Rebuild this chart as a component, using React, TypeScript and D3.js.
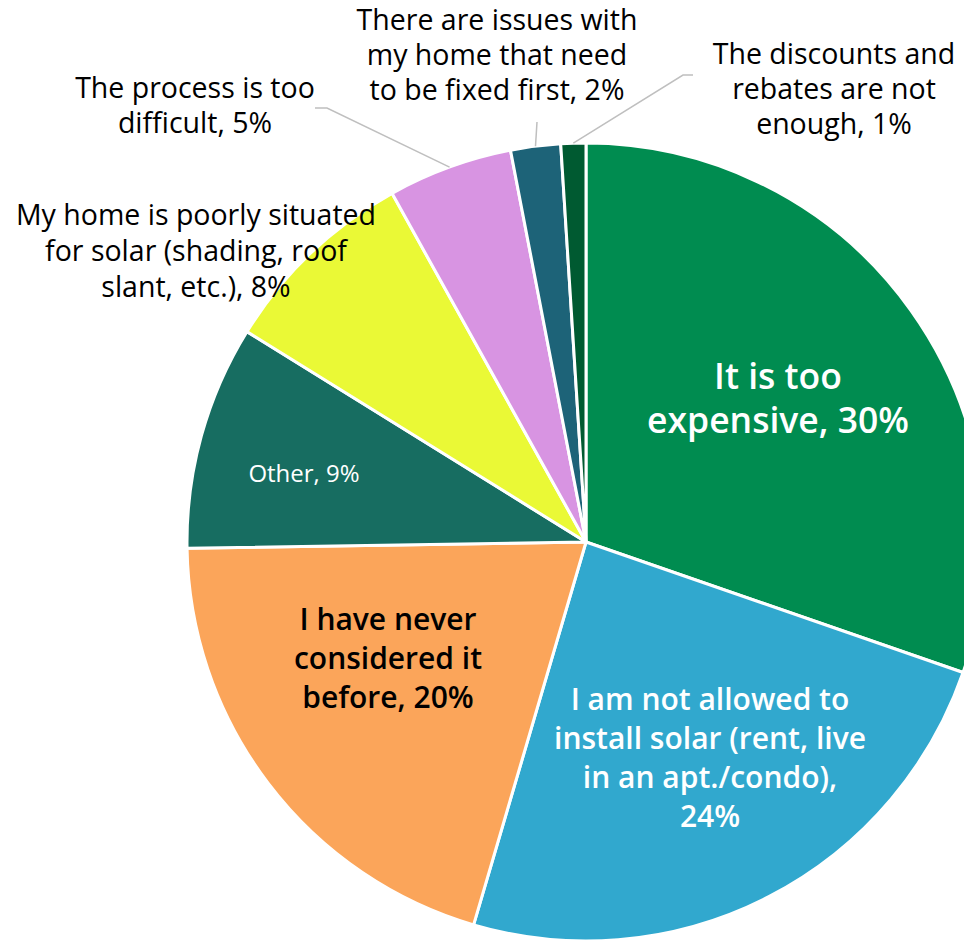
import React from "react";
import * as d3 from "d3";

const categories = [
  "It is too expensive",
  "I am not allowed to install solar (rent, live in an apt./condo)",
  "I have never considered it before",
  "Other",
  "My home is poorly situated for solar (shading, roof slant, etc.)",
  "The process is too difficult",
  "There are issues with my home that need to be fixed first",
  "The discounts and rebates are not enough",
];
const values = [30, 24, 20, 9, 8, 5, 2, 1];
const labelLines = [
  ["It is too", "expensive, 30%"],
  ["I am not allowed to", "install solar (rent, live", "in an apt./condo),", "24%"],
  ["I have never", "considered it", "before, 20%"],
  ["Other, 9%"],
  ["My home is poorly situated", "for solar (shading, roof", "slant, etc.), 8%"],
  ["The process is too", "difficult, 5%"],
  ["There are issues with", "my home that need", "to be fixed first, 2%"],
  ["The discounts and", "rebates are not", "enough, 1%"],
];
const colors = ["#008C50", "#31A8CE", "#FBA55A", "#176D61", "#EAF936", "#D894E2", "#1D6378", "#005A31"];

const W = 964;
const H = 940;
const CX = 586;
const CY = 542;
const R = 399;

type LabelStyle = {
  x: number; y: number; lh: number; size: number; weight: number; fill: string; family: string;
  leader?: [number, number][];
};
const inner = "'Open Sans', 'Liberation Sans', sans-serif";
const labelLayout: LabelStyle[] = [
  { x: 778, y: 389, lh: 44, size: 35.5, weight: 600, fill: "#ffffff", family: inner },
  { x: 710, y: 710, lh: 39, size: 30, weight: 600, fill: "#ffffff", family: inner },
  { x: 388, y: 630, lh: 39, size: 30, weight: 600, fill: "#000000", family: inner },
  { x: 304, y: 482, lh: 30, size: 24, weight: 400, fill: "#ffffff", family: inner },
  { x: 196, y: 225, lh: 36, size: 28.5, weight: 400, fill: "#000000", family: inner },
  { x: 195, y: 98, lh: 35, size: 28.5, weight: 400, fill: "#000000", family: inner, leader: [[315, 108], [327, 108]] },
  { x: 497, y: 30, lh: 35, size: 28.5, weight: 400, fill: "#000000", family: inner, leader: [[537, 122]] },
  { x: 834, y: 64, lh: 35, size: 28.5, weight: 400, fill: "#000000", family: inner, leader: [[693, 75], [683, 75]] },
];

export default function App() {
  const pie = d3.pie<number>().sort(null).value((d) => d).startAngle(0).endAngle(2 * Math.PI);
  const arcs = pie(values);
  const arc = d3.arc<d3.PieArcDatum<number>>().innerRadius(0).outerRadius(R);
  const edgeArc = d3.arc<d3.PieArcDatum<number>>().innerRadius(R).outerRadius(R);
  const line = d3.line();

  return (
    <div style={{ position: "absolute", left: 0, top: 0, width: W, height: H, overflow: "hidden", background: "#fff" }}>
      <svg width={W} height={H} viewBox={`0 0 ${W} ${H}`}>
        <g transform={`translate(${CX},${CY})`}>
          {arcs.map((a, i) => (
            <path key={categories[i]} d={arc(a) || ""} fill={colors[i]} stroke="#ffffff" strokeWidth={3} strokeLinejoin="round" />
          ))}
        </g>
        {arcs.map((a, i) => {
          const L = labelLayout[i];
          if (!L.leader) return null;
          const [ex, ey] = edgeArc.centroid(a);
          const pts: [number, number][] = [...L.leader, [CX + ex, CY + ey]];
          return <path key={"ld" + i} d={line(pts) || ""} fill="none" stroke="#BFBFBF" strokeWidth={1.5} />;
        })}
        {labelLines.map((lines, i) => {
          const L = labelLayout[i];
          return (
            <text key={"t" + i} textAnchor="middle" fontFamily={L.family} fontSize={L.size} fontWeight={L.weight} fill={L.fill}>
              {lines.map((s, j) => (
                <tspan key={j} x={L.x} y={L.y + j * L.lh}>{s}</tspan>
              ))}
            </text>
          );
        })}
      </svg>
    </div>
  );
}
